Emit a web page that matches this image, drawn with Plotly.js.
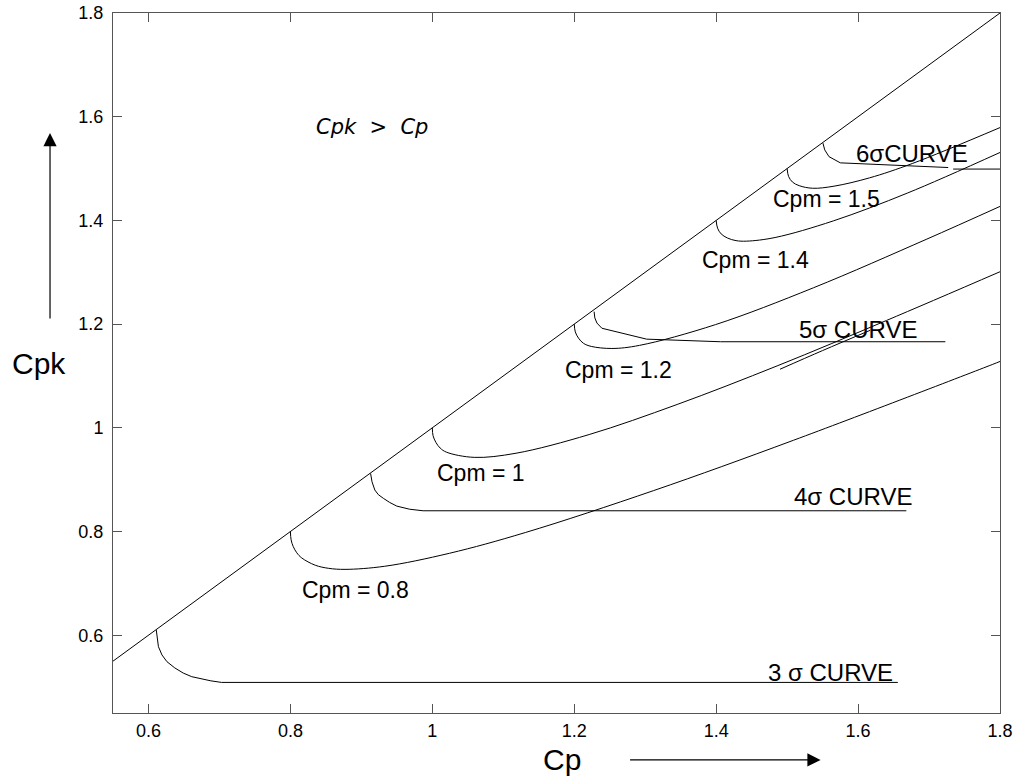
<!DOCTYPE html>
<html>
<head>
<meta charset="utf-8">
<script src="https://cdn.plot.ly/plotly-3.0.1.min.js"></script>
<style>html,body{margin:0;padding:0;background:#fff;}#chart{width:1013px;height:779px;}</style>
</head>
<body>
<div id="chart"></div>
<script>
// Diagonal Cpk = Cp
const diagX = [0.55, 1.8];
const diagY = [0.55, 1.8];

// Cpm curves
const cpm08X = [0.8, 0.801, 0.804, 0.809, 0.816, 0.835, 0.854, 0.877, 0.933, 1.024, 1.131, 1.312, 1.509, 1.789, 1.8];
const cpm08Y = [0.8, 0.784, 0.771, 0.759, 0.749, 0.735, 0.729, 0.727, 0.733, 0.758, 0.798, 0.879, 0.976, 1.122, 1.128];
const cpm10X = [1.0, 1.001, 1.005, 1.011, 1.020, 1.059, 1.118, 1.221, 1.345, 1.487, 1.640, 1.8];
const cpm10Y = [1.0, 0.985, 0.972, 0.961, 0.953, 0.943, 0.951, 0.987, 1.045, 1.120, 1.207, 1.301];
const cpm12X = [1.2, 1.2015, 1.206, 1.213, 1.224, 1.253, 1.292, 1.399, 1.537, 1.697, 1.8];
const cpm12Y = [1.2, 1.185, 1.173, 1.163, 1.157, 1.153, 1.159, 1.199, 1.270, 1.364, 1.427];
const cpm14X = [1.4, 1.402, 1.407, 1.416, 1.428, 1.443, 1.483, 1.565, 1.670, 1.8];
const cpm14Y = [1.4, 1.385, 1.374, 1.366, 1.361, 1.360, 1.367, 1.399, 1.453, 1.531];
const cpm15X = [1.5, 1.502, 1.5075, 1.517, 1.536, 1.566, 1.616, 1.677, 1.8];
const cpm15Y = [1.5, 1.485, 1.474, 1.467, 1.462, 1.466, 1.482, 1.510, 1.579];
// short doubled segment next to the Cpm = 1 curve
const dupX = [1.49, 1.55, 1.617];
const dupY = [1.113, 1.149, 1.188];

// Sigma curves
const sig3X = [0.611, 0.612, 0.614, 0.619, 0.626, 0.637, 0.649, 0.661, 0.673, 0.688, 0.703, 1.656];
const sig3Y = [0.610, 0.595, 0.578, 0.562, 0.549, 0.537, 0.527, 0.520, 0.516, 0.512, 0.509, 0.509];
const sig4X = [0.913, 0.915, 0.919, 0.924, 0.931, 0.940, 0.950, 0.968, 0.987, 1.668];
const sig4Y = [0.912, 0.896, 0.880, 0.871, 0.864, 0.856, 0.849, 0.843, 0.840, 0.840];
const sig5X = [1.228, 1.229, 1.232, 1.239, 1.302, 1.406, 1.723];
const sig5Y = [1.224, 1.212, 1.202, 1.192, 1.171, 1.166, 1.166];
const sig6X = [1.5505, 1.553, 1.559, 1.575, 1.727];
const sig6Y = [1.549, 1.536, 1.523, 1.511, 1.502];
const sig6bX = [1.734, 1.8];
const sig6bY = [1.499, 1.499];

// Labels
const labelText = ["Cpm = 1.5", "Cpm = 1.4", "Cpm = 1.2", "Cpm = 1", "Cpm = 0.8",
                   "6σCURVE", "5σ CURVE", "4σ CURVE", "3 σ CURVE"];
const labelX = [1.555, 1.456, 1.262, 1.069, 0.8915, 1.676, 1.600, 1.593, 1.561];
const labelY = [1.441, 1.324, 1.112, 0.913, 0.687, 1.530, 1.189, 0.867, 0.529];

const xTicks = [0.6, 0.8, 1.0, 1.2, 1.4, 1.6, 1.8];
const xTickText = ["0.6", "0.8", "1", "1.2", "1.4", "1.6", "1.8"];
const yTicks = [0.6, 0.8, 1.0, 1.2, 1.4, 1.6, 1.8];
const yTickText = ["0.6", "0.8", "1", "1.2", "1.4", "1.6", "1.8"];

const FONT = "Liberation Sans, Arial, Helvetica, sans-serif";
function ln(x, y, shape) {
  return {x: x, y: y, type: "scatter", mode: "lines", hoverinfo: "skip",
          line: {color: "#000", width: 1, shape: shape || "linear"}, showlegend: false};
}
const data = [
  ln(diagX, diagY),
  ln(cpm08X, cpm08Y, "spline"), ln(cpm10X, cpm10Y, "spline"), ln(cpm12X, cpm12Y, "spline"),
  ln(cpm14X, cpm14Y, "spline"), ln(cpm15X, cpm15Y, "spline"), ln(dupX, dupY, "spline"),
  ln(sig3X, sig3Y), ln(sig4X, sig4Y), ln(sig5X, sig5Y), ln(sig6X, sig6Y), ln(sig6bX, sig6bY)
];

const labelSizes = [23, 23, 23, 23, 23, 24, 24, 24, 24];
const annotations = labelText.map((t, i) => ({
  x: labelX[i], y: labelY[i], xref: "x", yref: "y", text: t, showarrow: false,
  xanchor: "center", yanchor: "middle", font: {family: FONT, size: labelSizes[i], color: "#000"}
}));
annotations.push({
  x: 0.915, y: 1.580, xref: "x", yref: "y", text: "Cpk\u00a0\u00a0>\u00a0\u00a0Cp", showarrow: false,
  xanchor: "center", yanchor: "middle",
  font: {family: "DejaVu Sans, sans-serif", size: 21, color: "#000", style: "italic"}
});
// axis titles
annotations.push({
  x: -0.083, y: 0.50, xref: "paper", yref: "paper", text: "Cpk", showarrow: false,
  xanchor: "center", yanchor: "middle", font: {family: FONT, size: 30, color: "#000"}
});
annotations.push({
  x: 0.506, y: -0.066, xref: "paper", yref: "paper", text: "Cp", showarrow: false,
  xanchor: "center", yanchor: "middle", font: {family: FONT, size: 30, color: "#000"}
});
// arrows
annotations.push({
  x: -0.0710, y: 0.8286, xref: "paper", yref: "paper", text: "", showarrow: true,
  ax: 0, ay: 187, arrowhead: 2, arrowsize: 2.2, arrowwidth: 1.2, arrowcolor: "#000"
});
annotations.push({
  x: 0.7977, y: -0.0671, xref: "paper", yref: "paper", text: "", showarrow: true,
  ax: -192, ay: 0, arrowhead: 2, arrowsize: 2.2, arrowwidth: 1.2, arrowcolor: "#000"
});

const axisCommon = {
  showgrid: false, zeroline: false, showline: true, linecolor: "#555", linewidth: 1,
  ticks: "inside", ticklen: 9, tickwidth: 1, tickcolor: "#555", mirror: "ticks",
  tickfont: {family: FONT, size: 18, color: "#000"}, fixedrange: true
};
const layout = {
  width: 1013, height: 779,
  margin: {l: 113, r: 13, t: 13, b: 66},
  paper_bgcolor: "#fff", plot_bgcolor: "#fff",
  xaxis: Object.assign({}, axisCommon, {range: [0.55, 1.8], tickvals: xTicks, ticktext: xTickText, ticklabelstandoff: 1}),
  yaxis: Object.assign({}, axisCommon, {range: [0.45, 1.8], tickvals: yTicks, ticktext: yTickText, ticklabelstandoff: 5}),
  annotations: annotations,
  showlegend: false
};
Plotly.newPlot("chart", data, layout, {displayModeBar: false, staticPlot: true});
</script>
</body>
</html>
